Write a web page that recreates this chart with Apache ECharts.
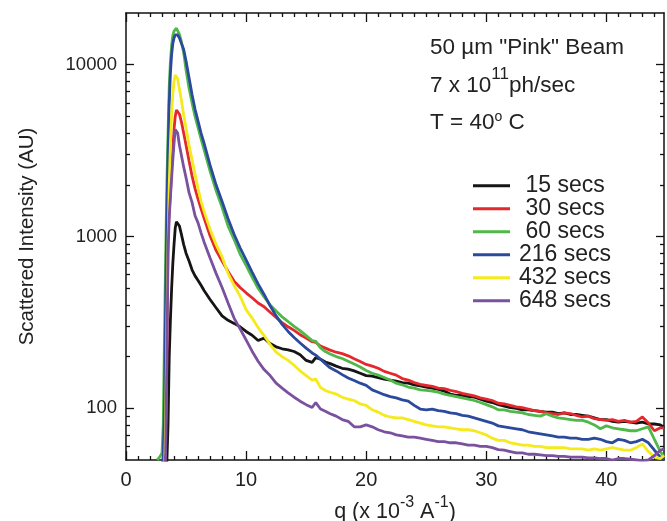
<!DOCTYPE html>
<html><head><meta charset="utf-8">
<script src="https://cdn.jsdelivr.net/npm/echarts@6/dist/echarts.min.js"></script>
<style>html,body{margin:0;padding:0;background:#fff}#c{width:667px;height:521px}</style>
</head><body><div id="c"></div>
<script>
// q (x 10^-3 A^-1) sample positions
const qHead = [2.6,2.8,3.0,3.1,3.2,3.3,3.4,3.5,3.6,3.7,
 3.8,3.9,4.0,4.1,4.2,4.3,4.45,4.6,4.8,5.0,
 5.25,5.5,5.75,6.0,6.25,6.5,7.0,7.5,8.0,8.5,
 9.0,9.5,10,10.5,11,11.5,12,12.5,13,13.5,
 14,14.5,15,15.5,15.8,16.2,16.6];
const qTail = [17,17.5,18,18.5,19,19.5,20,20.5,21,21.5,
 22,22.5,23,23.5,24,24.5,25,25.5,26,26.5,
 27,27.5,28,28.5,29,29.5,30,30.5,31,31.5,
 32,32.5,33,33.5,34,34.5,35,35.5,36,36.5,
 37,37.5,38,38.5,39,39.5,40,40.5,41,41.5,
 42,42.5,43,43.5,44,44.5,44.8];

const names = ['15 secs','30 secs','60 secs','216 secs','432 secs','648 secs'];
const colors = ['#151515','#e5282c','#4fb848','#2b4a9c','#f4ea1c','#7a519f'];

const s15Head = [40,40,40,40,40,40,48,80,200,330,
 500,700,900,1120,1220,1230,1150,1040,900,800,
 720,640,590,555,520,485,430,385,345,325,
 312,298,280,266,248,256,238,228,222,219,
 214,205,190,185,197,193,186];
const s15Tail = [182,176,171,169,165,160,155,154,151,148,
 146,144,141,140,137,135,133,131,129,126,
 121,119,119,117,116,113,110,108,105,103,
 101,100,98,98,97,96,95,95,93,94,
 92,92,91,90,88,86,86,84,83,84,
 83,82,83,81,81,80,77];

const s30Head = [40,40,40,40,42,60,200,1000,1400,1800,
 2500,3200,4200,5000,5450,5500,5150,4700,4000,3400,
 2750,2250,1900,1650,1450,1280,1010,830,720,625,
 550,505,470,440,410,390,362,338,315,298,
 284,268,256,244,242,230,224];
const s30Tail = [218,212,208,202,194,187,180,176,171,164,
 160,156,149,146,141,138,136,134,131,130,
 127,125,122,120,118,115,113,111,107,106,
 104,102,101,99,97,96,94,93,92,94,
 93,91,89,90,87,86,85,86,84,85,
 83,84,89,82,74,77,77];

const s60Head = [50,52,55,80,250,750,2000,4000,7500,10500,
 13000,14800,15700,16100,16300,16200,15000,13700,11800,9300,
 7300,6000,5000,4300,3700,3200,2400,1850,1480,1150,
 960,790,680,580,500,445,400,368,340,320,
 300,283,265,248,245,225,214];
const s60Tail = [207,200,195,188,181,174,166,160,156,151,
 146,140,137,133,131,128,127,126,124,121,
 119,117,115,113,111,108,105,102,98,98,
 96,95,94,92,91,90,93,90,88,87,
 86,85,85,83,80,76,79,77,76,75,
 74,74,76,78,66,56,52];

const s216Head = [40,42,46,52,100,400,1300,3000,6000,9000,
 11500,13300,14300,14900,15000,14900,14300,13400,12300,10500,
 8400,6700,5500,4700,4000,3500,2600,2000,1600,1270,
 1030,860,730,620,530,460,395,345,308,280,
 258,240,224,210,204,193,182];
const s216Tail = [172,165,157,150,145,140,136,128,124,120,
 117,115,112,110,104,99,98,99,97,96,
 94,93,91,90,88,86,84,82,79,78,
 77,76,75,73,72,71,70,69,68,68,
 67,67,66,66,67,66,64,63,66,65,
 63,64,66,63,57,52,50];

const s432Head = [40,40,40,40,42,80,300,900,2000,3500,
 5200,6800,8000,8700,8800,8300,7200,6300,5100,4300,
 3400,2800,2300,1900,1600,1400,1100,900,760,610,
 520,450,375,335,295,265,235,212,200,190,
 178,165,155,146,148,132,127];
const s432Tail = [124,121,116,113,111,106,104,98,95,91,
 89,88,88,86,84,82,80,79,78,78,
 77,76,75,75,74,72,70,67,65,65,
 63,62,61,61,60,60,59,59,59,59,
 58,58,58,57,58,57,58,59,58,57,
 57,59,62,56,52,51,53];

const s648Head = [40,40,40,40,40,55,180,800,1300,1700,
 2200,2800,3500,4200,4300,4000,3400,3000,2550,2200,
 1800,1580,1320,1200,1050,930,750,610,505,410,
 335,290,250,215,188,168,155,140,131,123,
 116,110,105,101,108,99,96];
const s648Tail = [93,90,86,84,78,78,80,78,75,73,
 72,70,69,68,68,67,66,65,64,64,
 63,63,62,61,61,60,60,59,57.5,57,
 56,55,55,54,54,53.5,53,53,52.5,52.5,
 52,52,52,51.5,51.5,51,51,50,51,51,
 50.5,50,49.5,50,53,57,58];

// axis ticks / labels
const xMajor = [0,10,20,30,40];
const xMinor = [1,2,3,4,5,6,7,8,9,11,12,13,14,15,16,17,18,19,21,22,23,24,25,26,27,28,29,31,32,33,34,35,36,37,38,39,41,42,43,44];
const yMajor = [100,1000,10000];
const yMinor = [60,70,80,90,200,300,400,500,600,700,800,900,2000,3000,4000,5000,6000,7000,8000,9000];

const FONT = "'Liberation Sans', Arial, Helvetica, sans-serif";
const TXT = '#222';
const q = qHead.concat(qTail);
const seriesValues = [
  s15Head.concat(s15Tail), s30Head.concat(s30Tail), s60Head.concat(s60Tail),
  s216Head.concat(s216Tail), s432Head.concat(s432Tail), s648Head.concat(s648Tail)
];

const axLine = {show:true, onZero:false, lineStyle:{color:'#111', width:1.5}};
const noLine = {show:false, onZero:false};
function xAx(pos, major, withLabels) {
  return {
    type:'value', position:pos, min:0, max:44.8,
    axisLine: major ? axLine : noLine,
    axisTick:{show:true, inside:true, length: major ? 9 : 4, customValues: major ? xMajor : xMinor, lineStyle:{color:'#111', width:1.3}},
    axisLabel: withLabels ? {show:true, customValues:xMajor, fontSize:20, margin:10, color:TXT, fontFamily:FONT, formatter: v => String(v)} : {show:false},
    splitLine:{show:false}
  };
}
function yAx(pos, major, withLabels) {
  return {
    type:'log', logBase:10, position:pos, min:50, max:20000,
    axisLine: major ? axLine : noLine,
    axisTick:{show:true, inside:true, length: major ? 8 : 4, customValues: major ? yMajor : yMinor, lineStyle:{color:'#111', width:1.3}},
    axisLabel: withLabels ? {show:true, customValues:yMajor, fontSize:18.5, margin:9, color:TXT, fontFamily:FONT, formatter: v => String(v)} : {show:false},
    splitLine:{show:false}, minorTick:{show:false}
  };
}
const xBottom = xAx('bottom', true, true);
Object.assign(xBottom, {
  name:'q (x 10{sup|-3} A{sup|-1})', nameLocation:'middle', nameGap:17,
  nameTextStyle:{fontSize:21.5, color:TXT, fontFamily:FONT, lineHeight:34,
    rich:{sup:{fontSize:16, lineHeight:16, verticalAlign:'top', color:TXT, fontFamily:FONT}}}
});
const yLeft = yAx('left', true, true);
Object.assign(yLeft, {
  name:'Scattered Intensity (AU)', nameLocation:'middle', nameGap:88, nameRotate:90,
  nameTextStyle:{fontSize:20.5, color:TXT, fontFamily:FONT}
});

const chart = echarts.init(document.getElementById('c'), null, {renderer:'canvas'});
chart.setOption({
  animation:false,
  backgroundColor:'#fff',
  grid:{left:126, right:3, top:13, bottom:61, containLabel:false, outerBoundsMode:'none'},
  xAxis:[xBottom, xAx('bottom', false, false), xAx('top', true, false), xAx('top', false, false)],
  yAxis:[yLeft, yAx('left', false, false), yAx('right', true, false), yAx('right', false, false)],
  legend:{
    show:true, orient:'vertical', left:473, top:174.2, padding:0, itemWidth:37, itemHeight:3, itemGap:0,
    icon:'rect', data:names,
    formatter: n => (n.length < 8 ? '{s|' : '{l|') + n + '}',
    textStyle:{fontSize:23, color:TXT, fontFamily:FONT, lineHeight:22.7,
      rich:{
        s:{fontSize:23, lineHeight:22.7, color:TXT, fontFamily:FONT, padding:[0,0,0,10.5]},
        l:{fontSize:23, lineHeight:22.7, color:TXT, fontFamily:FONT, padding:[0,0,0,4]}
      }}
  },
  graphic:[
    {type:'text', x:430, y:48, style:{text:'50 µm "Pink" Beam', font:'22.5px ' + FONT, fill:TXT, verticalAlign:'middle', align:'left'}},
    {type:'text', x:430, y:85.5, style:{text:'7 x 10{sup|11}ph/sec', fontSize:22.5, fontFamily:FONT, fill:TXT, verticalAlign:'middle', align:'left', lineHeight:40,
      rich:{sup:{fontSize:17, lineHeight:16, verticalAlign:'top', fill:TXT, fontFamily:FONT}}}},
    {type:'text', x:430, y:123, style:{text:'T = 40{sup|o} C', fontSize:22.5, fontFamily:FONT, fill:TXT, verticalAlign:'middle', align:'left', lineHeight:25,
      rich:{sup:{fontSize:14, lineHeight:14, verticalAlign:'top', fill:TXT, fontFamily:FONT}}}}
  ],
  series: names.map((n, i) => ({
    name:n, type:'line', xAxisIndex:0, yAxisIndex:0,
    data: q.map((x, j) => [x, seriesValues[i][j]]),
    showSymbol:false, symbol:'none', clip:true,
    lineStyle:{color:colors[i], width:2.8}, itemStyle:{color:colors[i]},
    emphasis:{disabled:true}
  }))
});
</script>
</body></html>
